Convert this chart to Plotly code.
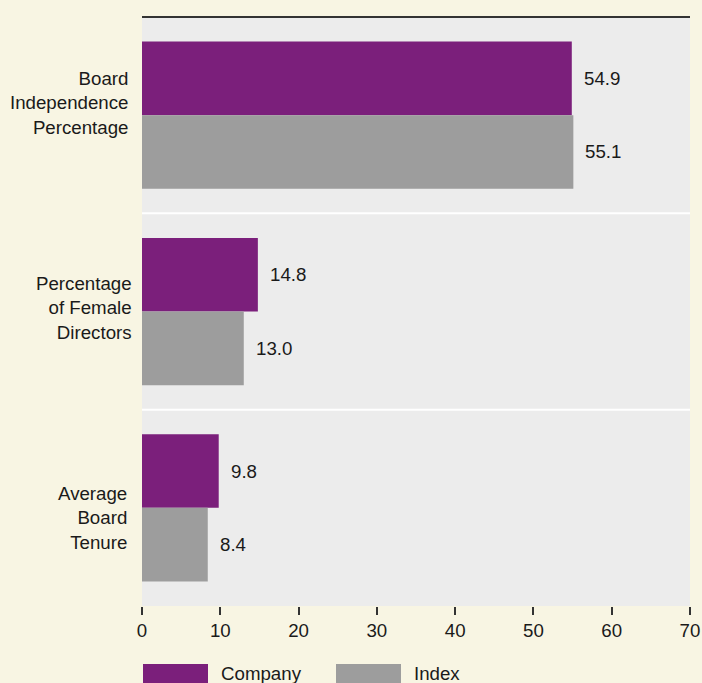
import plotly.graph_objects as go

categories = ["Board<br>Independence<br>Percentage", "Percentage<br>of Female<br>Directors", "Average<br>Board<br>Tenure"]
series_names = ["Company", "Index"]
company_values = [54.9, 14.8, 9.8]
index_values = [55.1, 13.0, 8.4]
x_ticks = [0, 10, 20, 30, 40, 50, 60, 70]

# category label nudges (pixels) to follow the reference layout
label_yshift = [12, 4, -10]
label_xshift = [-12, -8, -13]

colors = ["#7b1f7b", "#9d9d9d"]
FONT = "Liberation Sans, Arial, sans-serif"
FS = 18.7
W, H = 702, 683
ML, MR, MT, MB = 142, 12, 17, 77
PH = H - MT - MB

fig = go.Figure()
for name, vals, col in zip(series_names, [company_values, index_values], colors):
    fig.add_trace(go.Bar(
        y=categories, x=vals, name=name, orientation="h",
        marker=dict(color=col, line=dict(width=0)),
        showlegend=False, hoverinfo="x+name",
    ))

annotations = []
for k, vals in enumerate([company_values, index_values]):
    for i, v in enumerate(vals):
        annotations.append(dict(
            x=v, y=i + (-0.1875 if k == 0 else 0.1875), xref="x", yref="y",
            text=f"{v:.1f}", showarrow=False, xanchor="left", yanchor="middle",
            xshift=10, font=dict(family=FONT, size=FS, color="#1a1a1a"),
        ))

for i, cat in enumerate(categories):
    annotations.append(dict(
        x=0, y=i, xref="paper", yref="y", text=cat, showarrow=False,
        xanchor="right", yanchor="middle", align="right",
        xshift=label_xshift[i], yshift=label_yshift[i],
        font=dict(family=FONT, size=FS, color="#1a1a1a"),
    ))

shapes = [
    dict(type="line", xref="paper", yref="paper", x0=0, x1=1, y0=1, y1=1,
         line=dict(color="#333333", width=2)),
]
for b in [0.5, 1.5]:
    shapes.append(dict(type="line", xref="paper", yref="y", x0=0, x1=1, y0=b, y1=b,
                       line=dict(color="#ffffff", width=2)))

# legend drawn as wide swatches below the axis
sw_top = -(664 - (MT + PH)) / PH
sw_bot = -(690 - (MT + PH)) / PH
leg_x = [(143 - ML) / (W - ML - MR), (336 - ML) / (W - ML - MR)]
sw_w = 65 / (W - ML - MR)
for name, col, lx in zip(series_names, colors, leg_x):
    shapes.append(dict(type="rect", xref="paper", yref="paper", x0=lx, x1=lx + sw_w,
                       y0=sw_bot, y1=sw_top, fillcolor=col, line=dict(width=0)))
    annotations.append(dict(x=lx + sw_w, y=-(673 - (MT + PH)) / PH, xref="paper", yref="paper",
                            text=name, showarrow=False, xanchor="left", yanchor="middle",
                            xshift=11, font=dict(family=FONT, size=FS, color="#1a1a1a")))

fig.update_layout(
    width=W, height=H, autosize=False,
    margin=dict(l=ML, r=MR, t=MT, b=MB, autoexpand=False),
    paper_bgcolor="#f8f5e3",
    plot_bgcolor="#ececec",
    barmode="group", bargap=0.25, bargroupgap=0,
    font=dict(family=FONT, size=FS, color="#1a1a1a"),
    xaxis=dict(range=[0, 70], tickvals=x_ticks, showgrid=False, zeroline=False,
               ticks="outside", ticklen=8, tickwidth=1.5, tickcolor="#333333",
               showline=False, tickfont=dict(size=FS), fixedrange=True, automargin=False),
    yaxis=dict(autorange="reversed", showgrid=False, zeroline=False, ticks="",
               showticklabels=False, fixedrange=True, automargin=False),
    shapes=shapes, annotations=annotations,
)

fig.write_html("out.html", config={"displayModeBar": False},
               post_script="document.body.style.margin='0';document.body.style.overflow='hidden';")
